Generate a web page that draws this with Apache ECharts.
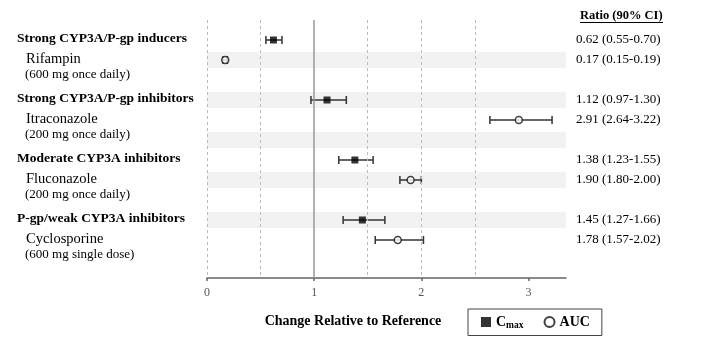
<!DOCTYPE html>
<html><head><meta charset="utf-8">
<script src="https://cdn.jsdelivr.net/npm/echarts@6/dist/echarts.min.js"></script>
<style>html,body{margin:0;padding:0;background:#fff}#c{width:712px;height:338px}</style>
</head><body><div id="c"></div>
<script>
const groups = ['Strong CYP3A/P-gp inducers','Strong CYP3A/P-gp inhibitors','Moderate CYP3A inhibitors','P-gp/weak CYP3A inhibitors'];
const drugs = ['Rifampin','Itraconazole','Fluconazole','Cyclosporine'];
const doses = ['(600 mg once daily)','(200 mg once daily)','(200 mg once daily)','(600 mg single dose)'];
const cmaxRows = [1,4,7,10];
const aucRows = [2,5,8,11];
const bandRows = [2,4,6,8,10];
const cmaxRatio = [0.62,1.12,1.38,1.45];
const cmaxLow = [0.55,0.97,1.23,1.27];
const cmaxHigh = [0.70,1.30,1.55,1.66];
const aucRatio = [0.17,2.91,1.90,1.78];
const aucLow = [0.15,2.64,1.80,1.57];
const aucHigh = [0.19,3.22,2.00,2.02];
const xTicks = [0,1,2,3];
const dashedRefs = [0,0.5,1.5,2,2.5];
const solidRef = 1;

const SERIF = '"Liberation Serif", "DejaVu Serif", serif';
const fmt = (r,l,h)=>`${r.toFixed(2)} (${l.toFixed(2)}-${h.toFixed(2)})`;

const errData = [];
cmaxRows.forEach((r,i)=>errData.push([cmaxLow[i],cmaxHigh[i],r]));
aucRows.forEach((r,i)=>errData.push([aucLow[i],aucHigh[i],r]));

const ratioTexts = [], ratioRows = [];
cmaxRows.forEach((r,i)=>{ratioRows.push(r);ratioTexts.push(fmt(cmaxRatio[i],cmaxLow[i],cmaxHigh[i]));});
aucRows.forEach((r,i)=>{ratioRows.push(r);ratioTexts.push(fmt(aucRatio[i],aucLow[i],aucHigh[i]));});

const leftItems = [];
groups.forEach((g,i)=>{
  leftItems.push({row: cmaxRows[i]-0.05, text: g, kind:'h'});
  leftItems.push({row: cmaxRows[i]+0.95, text: drugs[i], kind:'d'});
  leftItems.push({row: cmaxRows[i]+1.72, text: doses[i], kind:'s'});
});

const chart = echarts.init(document.getElementById('c'));
chart.setOption({
  animation:false,
  grid:{left:207,right:146,top:20,bottom:60},
  xAxis:{type:'value',position:'bottom',min:0,max:3.35,interval:1,
    axisLine:{onZero:false,lineStyle:{color:'#666',width:1.5}},
    axisTick:{show:true,length:3,customValues:xTicks,lineStyle:{color:'#666',width:1.5}},
    axisLabel:{customValues:xTicks,color:'#555',fontFamily:SERIF,fontSize:12,margin:9},
    splitLine:{show:false}},
  yAxis:{type:'value',inverse:true,min:0,max:12.9,show:false},
  legend:{left:468,top:309,data:['Cmax','AUC'],borderColor:'#444',borderWidth:1,backgroundColor:'#fff',
    padding:[6,12,5,13],itemGap:20,itemWidth:10,itemHeight:10,selectedMode:false,
    formatter:n=> n==='Cmax' ? '{c|C}{s|max}' : '{c|AUC}',
    textStyle:{rich:{c:{fontFamily:SERIF,fontWeight:'bold',fontSize:14,color:'#000'},
      s:{fontFamily:SERIF,fontWeight:'bold',fontSize:9.5,color:'#000',padding:[7,0,0,0]}}}},
  graphic:[
    {type:'text',x:353,y:321,style:{text:'Change Relative to Reference',font:'bold 14px '+SERIF,fill:'#000',align:'center',verticalAlign:'middle'}},
    {type:'text',x:580,y:16,style:{text:'Ratio (90% CI)',font:'bold 12.5px '+SERIF,fill:'#000',align:'left',verticalAlign:'middle'}},
    {type:'line',shape:{x1:580,y1:22.5,x2:663,y2:22.5},style:{stroke:'#000',lineWidth:1}}
  ],
  series:[
    {type:'scatter',data:[],z:1,silent:true,
      markArea:{silent:true,itemStyle:{color:'#f2f2f2'},
        data:bandRows.map(r=>[{xAxis:0,yAxis:r-0.4},{xAxis:3.35,yAxis:r+0.4}])}},
    {type:'scatter',data:[],z:2,silent:true,
      markLine:{silent:true,symbol:['none','none'],label:{show:false},
        lineStyle:{color:'#bbb',type:[3,3],width:1},
        data:dashedRefs.map(v=>({xAxis:v}))}},
    {type:'scatter',data:[],z:2,silent:true,
      markLine:{silent:true,symbol:['none','none'],label:{show:false},
        lineStyle:{color:'#999',type:'solid',width:1.5},
        data:[{xAxis:solidRef}]}},
    {type:'custom',z:3,silent:true,data:errData,encode:{x:[0,1],y:2},
      renderItem:(p,api)=>{
        const a=api.coord([api.value(0),api.value(2)]);
        const b=api.coord([api.value(1),api.value(2)]);
        const st={stroke:'#333',lineWidth:1.5};
        return {type:'group',children:[
          {type:'line',shape:{x1:a[0],y1:a[1],x2:b[0],y2:b[1]},style:st},
          {type:'line',shape:{x1:a[0],y1:a[1]-4,x2:a[0],y2:a[1]+4},style:st},
          {type:'line',shape:{x1:b[0],y1:b[1]-4,x2:b[0],y2:b[1]+4},style:st}
        ]};
      }},
    {name:'Cmax',type:'scatter',z:4,symbol:'rect',symbolSize:7,
      itemStyle:{color:'#000'},data:cmaxRatio.map((v,i)=>[v,cmaxRows[i]])},
    {name:'AUC',type:'scatter',z:4,symbol:'circle',symbolSize:7,
      itemStyle:{color:'#fff',borderColor:'#111',borderWidth:1.5},data:aucRatio.map((v,i)=>[v,aucRows[i]])},
    {type:'custom',z:5,silent:true,clip:false,data:ratioRows.map(r=>[0,r]),encode:{x:0,y:1},
      renderItem:(p,api)=>{
        const c=api.coord([0,api.value(1)]);
        return {type:'text',style:{text:ratioTexts[p.dataIndex],x:576,y:c[1],font:'13px '+SERIF,fill:'#000',align:'left',verticalAlign:'middle'}};
      }},
    {type:'custom',z:5,silent:true,clip:false,data:leftItems.map(o=>[0,o.row]),encode:{x:0,y:1},
      renderItem:(p,api)=>{
        const o=leftItems[p.dataIndex];
        const c=api.coord([0,api.value(1)]);
        const font = o.kind==='h' ? 'bold 13.5px '+SERIF : (o.kind==='d' ? '14.5px '+SERIF : '13px '+SERIF);
        const x = o.kind==='h' ? 17 : (o.kind==='d' ? 26 : 25);
        return {type:'text',style:{text:o.text,x:x,y:c[1],font:font,fill:'#000',align:'left',verticalAlign:'middle'}};
      }}
  ]
});
</script></body></html>
